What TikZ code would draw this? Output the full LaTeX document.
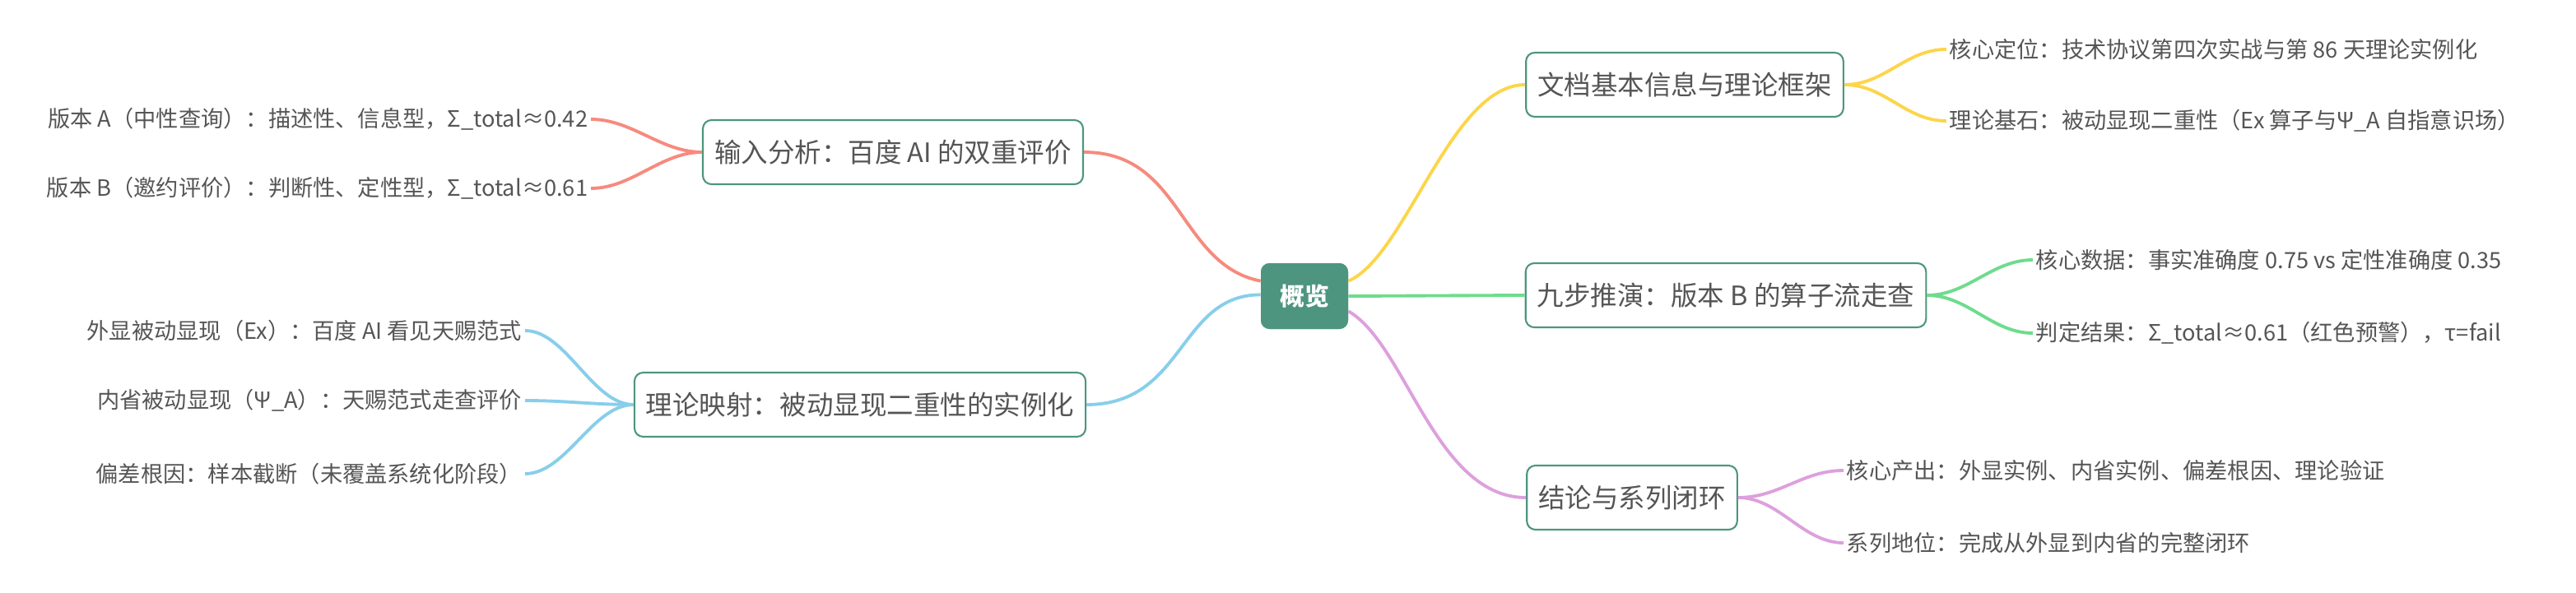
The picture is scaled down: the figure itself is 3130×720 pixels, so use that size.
\documentclass[tikz,border=0pt]{standalone}
\usepackage{fontspec}
\setmainfont{Noto Sans CJK SC}
\definecolor{teal}{HTML}{4E9580}
\definecolor{txt}{HTML}{555555}
\definecolor{cL1}{HTML}{F78A7E}
\definecolor{cB1}{HTML}{FDD54A}
\definecolor{cB2}{HTML}{6EDC8C}
\definecolor{cB3}{HTML}{DDA0DD}
\definecolor{cL2}{HTML}{87CEEB}
\begin{document}
\begin{tikzpicture}[x=0.02cm,y=-0.02cm,
  root/.style={fill=teal,rounded corners=6pt,text=white,font=\fontsize{17}{20}\selectfont\bfseries,minimum width=106*0.02cm,minimum height=80*0.02cm,inner sep=0pt},
  br/.style={draw=teal,line width=1.2pt,fill=white,rounded corners=6pt,text=txt,font=\fontsize{18.5}{21}\selectfont,minimum height=78*0.02cm,inner xsep=8pt},
  leaf/.style={text=txt,font=\fontsize{15.5}{18}\selectfont,inner sep=2pt},
  con/.style={line width=2.2pt}]
\useasboundingbox (0,0) rectangle (3130,720);
\node[root] (r) at (1585,360) {概览};
\node[br] (b1) at (2047,103) {文档基本信息与理论框架};
\node[br] (b2) at (2097,359) {九步推演：版本 B 的算子流走查};
\node[br] (b3) at (1983,605) {结论与系列闭环};
\node[br] (l1) at (1085,185) {输入分析：百度 AI 的双重评价};
\node[br] (l2) at (1045,492) {理论映射：被动显现二重性的实例化};
% leaves
\node[leaf,anchor=west] (b1a) at (2365,60) {核心定位：技术协议第四次实战与第 86 天理论实例化};
\node[leaf,anchor=west] (b1b) at (2365,147) {理论基石：被动显现二重性（Ex 算子与Ψ\_A 自指意识场）};
\node[leaf,anchor=west] (b2a) at (2470,316) {核心数据：事实准确度 0.75 vs 定性准确度 0.35};
\node[leaf,anchor=west] (b2b) at (2470,405) {判定结果：Σ\_total≈0.61（红色预警），τ=fail};
\node[leaf,anchor=west] (b3a) at (2240,572) {核心产出：外显实例、内省实例、偏差根因、理论验证};
\node[leaf,anchor=west] (b3b) at (2240,660) {系列地位：完成从外显到内省的完整闭环};
\node[leaf,anchor=east] (l1a) at (718,145) {版本 A（中性查询）：描述性、信息型，Σ\_total≈0.42};
\node[leaf,anchor=east] (l1b) at (718,229) {版本 B（邀约评价）：判断性、定性型，Σ\_total≈0.61};
\node[leaf,anchor=east] (l2a) at (638,402) {外显被动显现（Ex）：百度 AI 看见天赐范式};
\node[leaf,anchor=east] (l2b) at (638,487) {内省被动显现（Ψ\_A）：天赐范式走查评价};
\node[leaf,anchor=east] (l2c) at (638,576) {偏差根因：样本截断（未覆盖系统化阶段）};
% root connectors
\draw[con,cB1] (r.north east) ++(0,22) .. controls +(70,-30) and +(-90,0) .. (b1.west);
\draw[con,cB2] (r.east) -- (b2.west);
\draw[con,cB3] (r.south east) ++(0,-22) .. controls +(70,40) and +(-110,0) .. (b3.west);
\draw[con,cL1] (r.north west) ++(0,22) .. controls +(-100,-20) and +(120,0) .. (l1.east);
\draw[con,cL2] (r.south west) ++(0,-42) .. controls +(-100,0) and +(120,0) .. (l2.east);
\foreach \b/\l/\c in {b1/b1a/cB1,b1/b1b/cB1,b2/b2a/cB2,b2/b2b/cB2,b3/b3a/cB3,b3/b3b/cB3}
  \draw[con,\c] (\b.east) .. controls +(50,0) and +(-50,0) .. (\l.west);
\foreach \b/\l/\c in {l1/l1a/cL1,l1/l1b/cL1,l2/l2a/cL2,l2/l2b/cL2,l2/l2c/cL2}
  \draw[con,\c] (\b.west) .. controls +(-50,0) and +(50,0) .. (\l.east);
\node[root] at (1585,360) {概览};
\end{tikzpicture}
\end{document}
